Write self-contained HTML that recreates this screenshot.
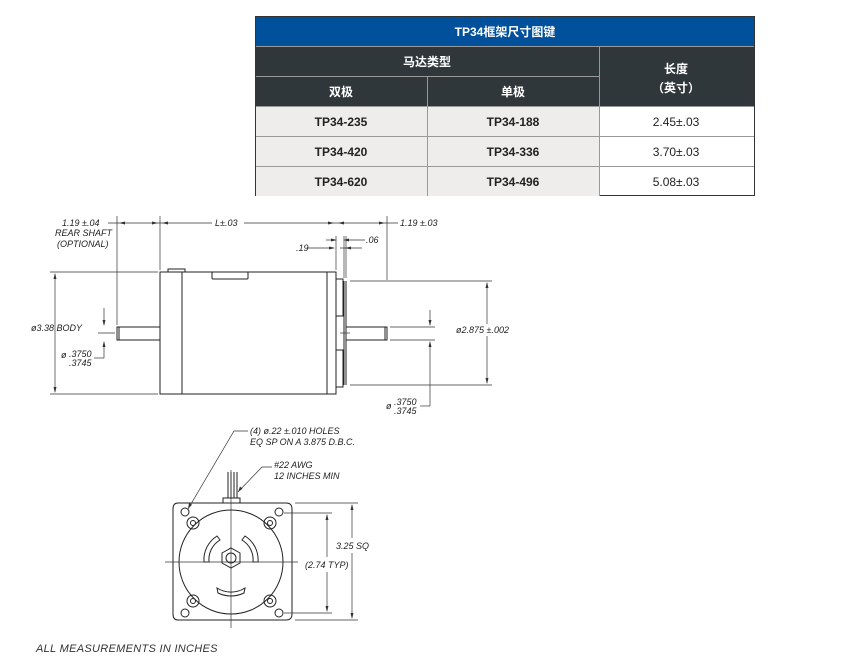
<!DOCTYPE html>
<html><head><meta charset="utf-8"><style>
html,body{margin:0;padding:0;background:#fff;width:846px;height:666px;overflow:hidden}
svg{display:block}
.t{font-family:"Liberation Sans","Noto Sans CJK SC",sans-serif;font-weight:bold;font-size:12px;text-anchor:middle}
.d{font-family:"Liberation Sans",sans-serif;font-style:italic;font-size:9px;fill:#222}
</style></head><body>
<svg width="846" height="666" viewBox="0 0 846 666" xmlns="http://www.w3.org/2000/svg">
<!-- table -->
<rect x="255.5" y="16.5" width="499" height="179" fill="#fff" stroke="#333"/>
<rect x="256" y="17" width="498" height="29" fill="#00509c"/>
<rect x="256" y="46" width="498" height="60" fill="#30373b"/>
<rect x="256" y="106" width="343" height="90" fill="#efedeb"/>
<g stroke="#999" stroke-width="1">
<line x1="256" y1="46.5" x2="754" y2="46.5"/>
<line x1="256" y1="76.5" x2="599" y2="76.5"/>
<line x1="256" y1="106.5" x2="754" y2="106.5"/>
<line x1="256" y1="136.5" x2="754" y2="136.5"/>
<line x1="256" y1="166.5" x2="754" y2="166.5"/>
<line x1="427.5" y1="77" x2="427.5" y2="196"/>
<line x1="599.5" y1="47" x2="599.5" y2="196"/>
</g>
<g class="t" fill="#fff">
<text x="505" y="36">TP34框架尺寸图键</text>
<text x="427" y="66">马达类型</text>
<text x="341" y="96">双极</text>
<text x="513" y="96">单极</text>
<text x="676" y="73">长度</text>
<text x="676" y="92">（英寸）</text>
</g>
<g class="t" fill="#222">
<text x="341" y="126">TP34-235</text><text x="513" y="126">TP34-188</text>
<text x="341" y="156">TP34-420</text><text x="513" y="156">TP34-336</text>
<text x="341" y="186">TP34-620</text><text x="513" y="186">TP34-496</text>
</g>
<g font-family="Liberation Sans,sans-serif" font-size="12" fill="#222" text-anchor="middle">
<text x="676" y="126">2.45±.03</text><text x="676" y="156">3.70±.03</text><text x="676" y="186">5.08±.03</text>
</g>

<!-- side view -->
<g fill="none" stroke="#222" stroke-width="1">
<rect x="160" y="272" width="167" height="122"/>
<line x1="182" y1="272" x2="182" y2="394"/>
<rect x="212" y="272" width="36" height="7" rx="1"/>
<rect x="168" y="269" width="17" height="3"/>
<rect x="117" y="327" width="43" height="13"/>
<line x1="119" y1="327" x2="119" y2="340"/>
<path d="M327 272H336V394H327"/>
<path d="M336 279H343V316H336M336 350H343V387H336"/>
<line x1="344" y1="281" x2="344" y2="385"/>
<line x1="346" y1="281" x2="346" y2="385"/>
<rect x="346" y="327" width="41" height="13"/>
<line x1="385" y1="327" x2="385" y2="340"/>
</g>
<g fill="none" stroke="#333" stroke-width="0.7">
<line x1="117" y1="216" x2="117" y2="325"/>
<line x1="160" y1="216" x2="160" y2="270"/>
<line x1="336" y1="236" x2="336" y2="270"/>
<line x1="344" y1="236" x2="344" y2="278"/>
<line x1="346" y1="236" x2="346" y2="278"/>
<line x1="387" y1="216" x2="387" y2="280"/>
<line x1="108" y1="223" x2="212" y2="223"/>
<line x1="244" y1="223" x2="398" y2="223"/>
<line x1="50" y1="272" x2="158" y2="272"/>
<line x1="50" y1="394" x2="158" y2="394"/>
<line x1="55" y1="274" x2="55" y2="392"/>
<line x1="104" y1="308" x2="104" y2="325"/>
<line x1="104" y1="342" x2="104" y2="358"/>
<line x1="94" y1="358" x2="104" y2="358"/>
<line x1="98" y1="333" x2="115" y2="333"/>
<line x1="307" y1="248" x2="334" y2="248"/>
<line x1="326" y1="240" x2="334" y2="240"/>
<line x1="348" y1="240" x2="365" y2="240"/>
<line x1="340" y1="248" x2="362" y2="248"/>
<line x1="350" y1="281" x2="492" y2="281"/>
<line x1="350" y1="385" x2="492" y2="385"/>
<line x1="487" y1="283" x2="487" y2="383"/>
<line x1="390" y1="327" x2="435" y2="327"/>
<line x1="390" y1="340" x2="435" y2="340"/>
<line x1="430" y1="310" x2="430" y2="325"/>
<line x1="430" y1="342" x2="430" y2="406"/>
<line x1="420" y1="406" x2="430" y2="406"/>
<line x1="340" y1="333" x2="350" y2="333"/>
</g>
<g fill="#333">
<path d="M119 223l6-1.5v3z M158 223l-6-1.5v3z M162 223l6-1.5v3z M334 223l-6-1.5v3z M338 223l6-1.5v3z M385 223l-6-1.5v3z"/>
<path d="M55 273l-1.5 6h3z M55 393l-1.5-6h3z M104 326l-1.5-6h3z M104 341l-1.5 6h3z"/>
<path d="M335 248l-6-1.5v3z M345 248l6-1.5v3z M343 240l6-1.5v3z M337 240l-6-1.5v3z"/>
<path d="M487 282l-1.5 6h3z M487 384l-1.5-6h3z M430 326l-1.5-6h3z M430 341l-1.5 6h3z"/>
</g>
<rect x="454" y="324" width="62" height="12" fill="#fff"/>
<g class="d">
<text x="62" y="226">1.19 ±.04</text>
<text x="55" y="236">REAR SHAFT</text>
<text x="57" y="247">(OPTIONAL)</text>
<text x="215" y="226">L±.03</text>
<text x="400" y="226">1.19 ±.03</text>
<text x="366" y="243">.06</text>
<text x="296" y="251">.19</text>
<text x="31" y="331">ø3.38 BODY</text>
<text x="61" y="358">ø</text>
<text x="69" y="357">.3750</text>
<text x="69" y="366">.3745</text>
<text x="456" y="333">ø2.875 ±.002</text>
<text x="386" y="409">ø</text>
<text x="394" y="405">.3750</text>
<text x="394" y="414">.3745</text>
</g>

<!-- front view -->
<g fill="none" stroke="#222" stroke-width="1">
<path d="M178 503H286Q292 503 292 509V614Q292 620 286 620H178Q173 620 173 614V509Q173 503 178 503Z"/>
<circle cx="231" cy="562" r="52"/>
<circle cx="185" cy="512" r="4"/><circle cx="279" cy="512" r="4"/>
<circle cx="185" cy="613" r="4"/><circle cx="279" cy="613" r="4"/>
<circle cx="193" cy="523" r="6"/><circle cx="270" cy="523" r="6"/>
<circle cx="193" cy="601" r="6"/><circle cx="270" cy="601" r="6"/>
<circle cx="193" cy="523" r="2.5"/><circle cx="270" cy="523" r="2.5"/>
<circle cx="193" cy="601" r="2.5"/><circle cx="270" cy="601" r="2.5"/>
<path d="M222 553l9-5 9 5v10l-9 5-9-5z"/>
<circle cx="231" cy="558" r="5"/>
<path d="M217 536a28 28 0 0 0 -13 26h5a23 23 0 0 1 11 -22z"/>
<path d="M245 536a28 28 0 0 1 13 26h-5a23 23 0 0 0 -11 -22z"/>
<path d="M217 588a26 26 0 0 0 28 0l-1 5a30 30 0 0 1 -26 0z"/>
<rect x="223" y="498" width="17" height="5"/>
<path d="M228 472V498M231 472V498M234 472V498M237 472V498"/>
</g>
<g fill="none" stroke="#333" stroke-width="0.7">
<line x1="165" y1="562" x2="298" y2="562"/>
<line x1="231" y1="470" x2="231" y2="628"/>
<line x1="295" y1="503" x2="358" y2="503"/>
<line x1="295" y1="620" x2="358" y2="620"/>
<line x1="284" y1="513" x2="332" y2="513"/>
<line x1="284" y1="613" x2="332" y2="613"/>
<line x1="352" y1="505" x2="352" y2="538"/><line x1="352" y1="553" x2="352" y2="618"/>
<line x1="327" y1="515" x2="327" y2="557"/><line x1="327" y1="572" x2="327" y2="611"/>
<path d="M188 509L234 431H248"/>
<path d="M238 492L262 467H272"/>
</g>
<g fill="#333">
<path d="M352 504l-1.5 6h3z M352 619l-1.5-6h3z M327 514l-1.5 6h3z M327 612l-1.5-6h3z"/>
<path d="M188 509l1-6 3 1.7z M238 492l2-5.5 2.5 2.2z"/>
</g>
<g class="d">
<text x="250" y="434">(4) ø.22 ±.010 HOLES</text>
<text x="250" y="445">EQ SP ON A 3.875 D.B.C.</text>
<text x="274" y="468">#22 AWG</text>
<text x="274" y="479">12 INCHES MIN</text>
<text x="336" y="549">3.25 SQ</text>
<text x="305" y="568">(2.74 TYP)</text>
</g>
<text x="36" y="652" font-family="Liberation Sans,sans-serif" font-style="italic" font-size="11" fill="#333" letter-spacing="0.3">ALL MEASUREMENTS IN INCHES</text>
</svg>
</body></html>
